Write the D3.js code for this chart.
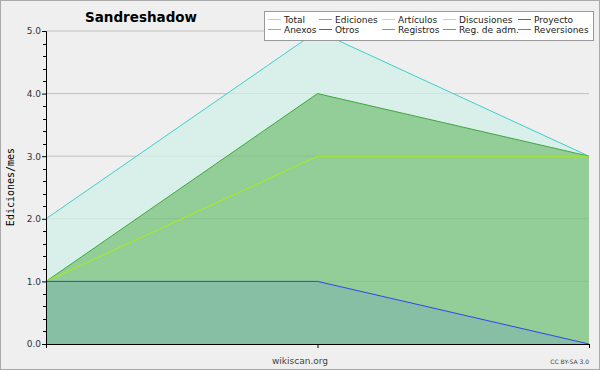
<!DOCTYPE html>
<html>
<head>
<meta charset="utf-8">
<script src="https://cdn.jsdelivr.net/npm/d3@7"></script>
<style>
  body { margin: 0; background: #fff; }
  svg { display: block; font-family: "DejaVu Sans", sans-serif; }
</style>
</head>
<body>
<div id="container"></div>
<script>
// data
var months = [0, 1, 2];
var total = [2, 5, 3];
var ediciones = [1, 4, 3];
var articulos = [1, 3, 3];
var registros = [1, 1, 0];
var yTicks = [0, 1, 2, 3, 4, 5];
var legendNames = ['Total', 'Ediciones', 'Artículos', 'Discusiones', 'Proyecto',
                   'Anexos', 'Otros', 'Registros', 'Reg. de adm.', 'Reversiones'];
var legendColors = ['#8ee0dc', '#66c466', '#c8ee44', '#ffcc33', '#666666',
                    '#ff8844', '#8833ee', '#7788ff', '#ee44ee', '#ff4444'];
var legendX = [268, 319, 382, 443, 518];

var width = 600, height = 370;
var margin = { left: 46, right: 11, top: 31, bottom: 26 };

var svg = d3.select('#container').append('svg')
  .attr('width', width).attr('height', height);

svg.append('rect')
  .attr('x', 0.5).attr('y', 0.5)
  .attr('width', width - 1).attr('height', height - 1)
  .attr('fill', '#efefef').attr('stroke', '#aaaaaa');

var x = d3.scaleLinear().domain([0, 2]).range([margin.left, width - margin.right]);
var y = d3.scaleLinear().domain([0, 5]).range([height - margin.bottom, margin.top]);

function area(vals) {
  return d3.area().x((d, i) => x(months[i])).y0(y(0)).y1(d => y(d))(vals);
}
function line(vals) {
  return d3.line().x((d, i) => x(months[i])).y(d => y(d))(vals);
}

// gridlines
svg.append('g').selectAll('line')
  .data(yTicks.slice(1))
  .join('line')
  .attr('x1', x(0)).attr('x2', x(2))
  .attr('y1', d => y(d)).attr('y2', d => y(d))
  .attr('stroke', '#cccccc');

// areas
svg.append('path').attr('d', area(total)).attr('fill', '#d8f0e9');
svg.append('path').attr('d', area(ediciones)).attr('fill', '#8fca92').attr('fill-opacity', 0.95);
svg.append('path').attr('d', area(registros)).attr('fill', '#86bfa4');

// gridlines over fills (faint)
svg.append('g').selectAll('line')
  .data(yTicks.slice(1))
  .join('line')
  .attr('x1', x(0)).attr('x2', x(2))
  .attr('y1', d => y(d)).attr('y2', d => y(d))
  .attr('stroke', '#000').attr('stroke-opacity', 0.05);

// lines
var series = [
  { vals: total, color: '#3cd0cc' },
  { vals: ediciones, color: '#3fa83f' },
  { vals: articulos, color: '#aaee11' },
  { vals: registros, color: '#3344ee' }
];
svg.append('g').selectAll('path')
  .data(series)
  .join('path')
  .attr('d', d => line(d.vals))
  .attr('fill', 'none')
  .attr('stroke', d => d.color)
  .attr('stroke-width', 1);

// y axis
var yAxis = svg.append('g')
  .attr('transform', `translate(${x(0)},0)`)
  .call(d3.axisLeft(y).tickValues(yTicks).tickFormat(d3.format('.1f')).tickSize(4).tickPadding(1));
yAxis.select('.domain').attr('stroke', '#000');
yAxis.selectAll('text').attr('font-size', 9).attr('fill', '#333').attr('font-family', '"DejaVu Sans", sans-serif');

// minor ticks
var minor = d3.range(0, 25).filter(i => i % 5 !== 0).map(i => i / 5);
svg.append('g').selectAll('line')
  .data(minor)
  .join('line')
  .attr('x1', x(0) - 3).attr('x2', x(0))
  .attr('y1', d => Math.round(y(d)) + 0.5).attr('y2', d => Math.round(y(d)) + 0.5)
  .attr('stroke', '#000');

// x axis
var xAxis = svg.append('g')
  .attr('transform', `translate(0,${y(0)})`)
  .call(d3.axisBottom(x).tickValues(months).tickFormat('').tickSize(4));
xAxis.select('.domain').attr('stroke', '#000');

// title
svg.append('text')
  .attr('x', 85).attr('y', 22)
  .attr('font-size', 13.5).attr('font-weight', 'bold')
  .attr('fill', '#000')
  .text('Sandreshadow');

// y label
svg.append('text')
  .attr('transform', 'translate(14,187) rotate(-90)')
  .attr('text-anchor', 'middle')
  .attr('font-size', 10).attr('fill', '#000')
  .attr('font-family', '"DejaVu Sans Mono", monospace')
  .text('Ediciones/mes');

// footer
svg.append('text')
  .attr('x', 300).attr('y', 364)
  .attr('text-anchor', 'middle')
  .attr('font-size', 9).attr('fill', '#444')
  .text('wikiscan.org');
svg.append('text')
  .attr('x', 589).attr('y', 364)
  .attr('text-anchor', 'end')
  .attr('font-size', 6).attr('fill', '#444')
  .text('CC BY-SA 3.0');

// legend
var legend = svg.append('g');
legend.append('rect')
  .attr('x', 264.5).attr('y', 11.5)
  .attr('width', 329).attr('height', 29)
  .attr('fill', '#fff').attr('stroke', '#999');
var items = legend.selectAll('g.item')
  .data(legendNames)
  .join('g')
  .attr('class', 'item')
  .attr('transform', (d, i) => `translate(${legendX[i % 5]},${i < 5 ? 19 : 29})`);
items.append('line')
  .attr('x1', 0).attr('x2', 13).attr('y1', 0.5).attr('y2', 0.5)
  .attr('stroke', d => legendColors[legendNames.indexOf(d)]);
items.append('text')
  .attr('x', 16).attr('y', 4)
  .attr('font-size', 9).attr('fill', '#222')
  .text(d => d);
</script>
</body>
</html>
